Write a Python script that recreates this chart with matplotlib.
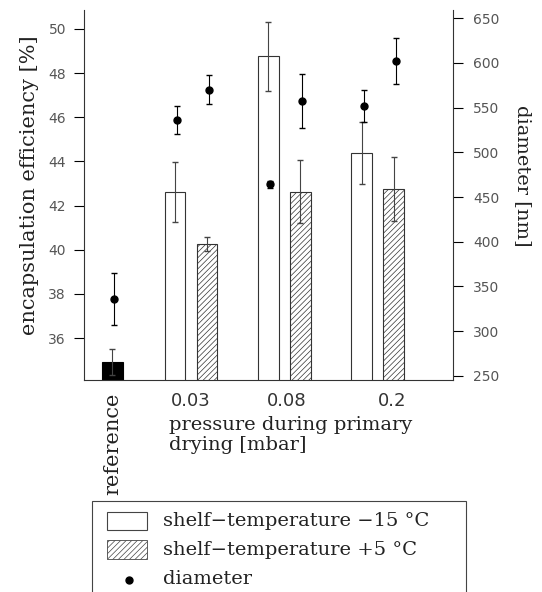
import matplotlib
matplotlib.use("Agg")
import matplotlib.pyplot as plt
from matplotlib.patches import Rectangle
from matplotlib.lines import Line2D

# values
pressures = ["0.03", "0.08", "0.2"]
ref_eff = 34.91
ref_eff_err = 0.6
eff_cold = [42.61, 48.77, 44.39]      # shelf-temperature -15 C
eff_cold_err = [1.35, 1.56, 1.4]
eff_warm = [40.26, 42.63, 42.75]      # shelf-temperature +5 C
eff_warm_err = [0.3, 1.43, 1.46]
ref_diam = 336
ref_diam_err = 29
diam_cold = [536, 464, 552]
diam_cold_err = [16, 4, 18]
diam_warm = [570, 557, 602]
diam_warm_err = [16, 30, 26]

W, H = 542, 592
plt.rcParams['hatch.linewidth'] = 0.5
fig = plt.figure(figsize=(W / 100, H / 100), dpi=100)

def fx(px):
    return px / W

def fy(py):
    return 1 - py / H

# axes placed in pixel terms
ax = fig.add_axes([fx(84), fy(380), (452.5 - 84) / W, 370 / H])
ax2 = ax.twinx()

groups = [1, 2, 3]
ref_x = 0.16
w = 0.22
off = 0.171
xc = [g - off for g in groups]
xw = [g + off for g in groups]

ax.bar(ref_x, ref_eff, width=w, color='black', edgecolor='black', lw=0.8, zorder=2)
ax.bar(xc, eff_cold, width=w, color='white', edgecolor='#333333', lw=0.8, zorder=2)
ax.bar(xw, eff_warm, width=w, color='white', edgecolor='#333333', lw=0.8,
       hatch='//////', zorder=2)
ax.errorbar([ref_x], [ref_eff], yerr=[ref_eff_err], fmt='none', ecolor='#444444',
            elinewidth=0.8, capsize=2.5, zorder=3)
ax.errorbar(xc, eff_cold, yerr=eff_cold_err, fmt='none', ecolor='#444444',
            elinewidth=0.8, capsize=2.5, zorder=3)
ax.errorbar(xw, eff_warm, yerr=eff_warm_err, fmt='none', ecolor='#444444',
            elinewidth=0.8, capsize=2.5, zorder=3)

ax2.errorbar([ref_x + 0.02], [ref_diam], yerr=[ref_diam_err], fmt='o', color='black',
             ms=5, elinewidth=0.8, capsize=2.5, zorder=4)
ax2.errorbar([x + 0.02 for x in xc], diam_cold, yerr=diam_cold_err, fmt='o', color='black',
             ms=5, elinewidth=0.8, capsize=2.5, zorder=4)
ax2.errorbar([x + 0.02 for x in xw], diam_warm, yerr=diam_warm_err, fmt='o', color='black',
             ms=5, elinewidth=0.8, capsize=2.5, zorder=4)

ax.set_xlim(-0.144, 3.80)
ax.set_ylim(34.1, 50.86)
ax2.set_ylim(245.5, 659)

serif = 'DejaVu Serif'

ax.set_yticks(range(36, 51, 2))
ax2.set_yticks(range(250, 651, 50))
ax.set_xticks([ref_x, 1, 2.03, 3.15])
ax.set_xticklabels(["reference"] + pressures)
ax.tick_params(axis='x', length=0, pad=9, labelsize=13, labelcolor='#333333')
xt = ax.get_xticklabels()
xt[0].set_rotation(90)
xt[0].set_va('top')
xt[0].set_family(serif)
xt[0].set_fontsize(15)
xt[0].set_color('#222222')

ax.tick_params(axis='y', direction='out', length=7, width=0.8, labelsize=10,
               labelcolor='#555555', pad=6)
ax2.tick_params(axis='y', direction='out', length=7, width=0.8, labelsize=10,
                labelcolor='#555555', pad=8)

for a in (ax, ax2):
    a.spines['top'].set_visible(False)
    for s in ('left', 'right', 'bottom'):
        a.spines[s].set_linewidth(0.8)
        a.spines[s].set_color('#333333')
ax.spines['right'].set_visible(False)
ax2.spines['left'].set_visible(False)
ax2.spines['bottom'].set_visible(False)

fig.text(fx(30), fy(185), "encapsulation efficiency [%]", rotation=90,
         ha='center', va='center', family=serif, fontsize=15, color='#222222')
fig.text(fx(523), fy(176), "diameter [nm]", rotation=270,
         ha='center', va='center', family=serif, fontsize=14, color='#222222')
fig.text(fx(169), fy(435), "pressure during primary\ndrying [mbar]", ha='left',
         va='center', family=serif, fontsize=14, linespacing=1.1, color='#222222')

# legend box, runs off the bottom of the page
fig.add_artist(Rectangle((fx(92), -0.05), fx(466) - fx(92), fy(501) + 0.05,
                         transform=fig.transFigure, fill=False, ec='#444444', lw=0.8))
fig.add_artist(Rectangle((fx(107), fy(530)), fx(147) - fx(107), fy(512) - fy(530),
                         transform=fig.transFigure, fc='white', ec='#444444', lw=0.8))
fig.add_artist(Rectangle((fx(107), fy(559)), fx(147) - fx(107), fy(540) - fy(559),
                         transform=fig.transFigure, fc='white', ec='#444444', lw=0.6,
                         hatch='//////'))
fig.add_artist(Line2D([fx(129)], [fy(580)], marker='o', ms=5, color='black',
                      transform=fig.transFigure))
leg_labels = ["shelf\u2212temperature \u221215 \u00b0C",
              "shelf\u2212temperature +5 \u00b0C",
              "diameter"]
for lab, yy in zip(leg_labels, [521, 550, 579]):
    fig.text(fx(163), fy(yy), lab, ha='left', va='center', family=serif,
             fontsize=14, color='#222222')

fig.savefig("out.png", dpi=100)
